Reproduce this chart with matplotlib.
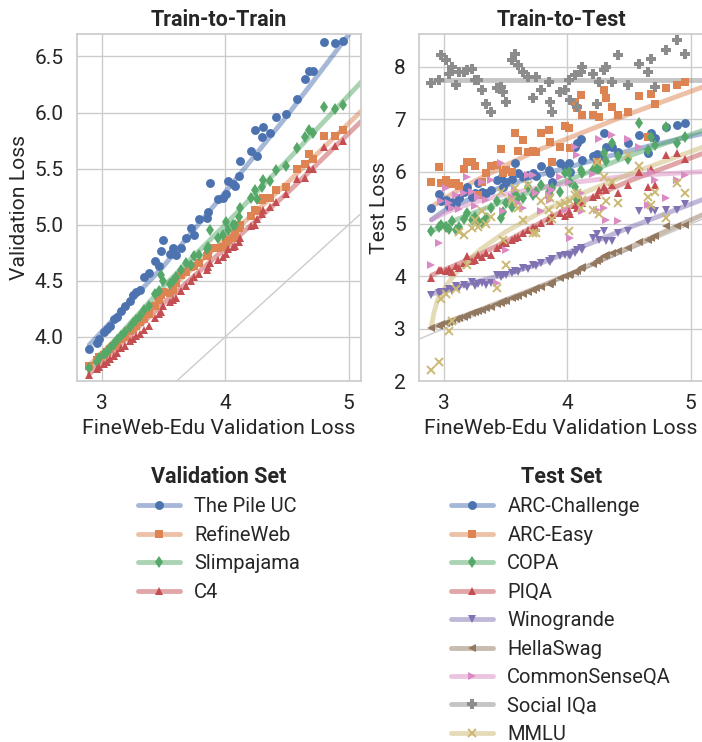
import matplotlib
matplotlib.use("Agg")
import matplotlib.pyplot as plt
import seaborn as sns
from matplotlib.lines import Line2D

sns.set_theme(style="whitegrid")
plt.rcParams['font.family'] = ['Roboto', 'DejaVu Sans']

# FineWeb-Edu validation loss of each model (shared x for every series)
fw_edu = [2.90, 2.96, 2.98, 3.02, 3.04, 3.07, 3.10, 3.12, 3.16, 3.19,
          3.23, 3.25, 3.28, 3.31, 3.34, 3.38, 3.43, 3.46, 3.48, 3.50,
          3.55, 3.58, 3.60, 3.64, 3.68, 3.72, 3.75, 3.79, 3.85, 3.86,
          3.88, 3.94, 3.98, 4.01, 4.02, 4.06, 4.08, 4.11, 4.12, 4.21,
          4.24, 4.26, 4.30, 4.31, 4.36, 4.41, 4.49, 4.58, 4.65, 4.68,
          4.71, 4.80, 4.89, 4.95]

# --- train-to-train (validation sets) ---
pile_uc = [3.89, 3.95, 3.98, 4.04, 4.07, 4.10, 4.16, 4.18, 4.23, 4.28,
           4.32, 4.37, 4.40, 4.42, 4.53, 4.57, 4.68, 4.63, 4.77, 4.86,
           4.74, 4.79, 4.73, 4.79, 4.88, 4.97, 4.91, 5.05, 5.06, 5.11,
           5.375, 5.23, 5.24, 5.27, 5.39, 5.36, 5.345, 5.43, 5.57, 5.66,
           5.84, 5.61, 5.78, 5.87, 5.82, 5.96, 5.99, 6.12, 6.30, 6.37,
           6.37, 6.63, 6.62, 6.64]
refineweb = [3.74, 3.79, 3.82, 3.84, 3.87, 3.89, 3.92, 3.94, 3.98, 4.00,
             4.05, 4.07, 4.10, 4.13, 4.16, 4.20, 4.28, 4.33, 4.37, 4.40,
             4.39, 4.42, 4.48, 4.55, 4.58, 4.62, 4.63, 4.66, 4.72, 4.74,
             4.79, 4.79, 4.80, 4.84, 4.86, 4.88, 4.92, 4.97, 5.00, 5.08,
             5.13, 5.12, 5.22, 5.24, 5.24, 5.31, 5.34, 5.50, 5.54, 5.63,
             5.59, 5.79, 5.79, 5.84]
slimpajama = [3.72, 3.78, 3.81, 3.85, 3.87, 3.90, 3.94, 3.97, 4.01, 4.04,
              4.09, 4.12, 4.15, 4.19, 4.24, 4.28, 4.38, 4.41, 4.55, 4.50,
              4.47, 4.50, 4.53, 4.60, 4.66, 4.64, 4.72, 4.73, 4.78, 4.80,
              4.95, 4.88, 4.91, 5.02, 4.95, 5.00, 5.00, 5.07, 5.15, 5.24,
              5.31, 5.23, 5.34, 5.40, 5.39, 5.49, 5.52, 5.68, 5.78, 5.84,
              5.82, 6.05, 6.03, 6.07]
c4 = [3.66, 3.71, 3.73, 3.76, 3.78, 3.80, 3.83, 3.86, 3.90, 3.92,
      3.96, 3.98, 4.01, 4.03, 4.06, 4.10, 4.17, 4.20, 4.22, 4.28,
      4.31, 4.33, 4.35, 4.41, 4.45, 4.50, 4.53, 4.56, 4.60, 4.62,
      4.66, 4.69, 4.71, 4.74, 4.78, 4.80, 4.81, 4.85, 4.88, 4.99,
      5.00, 5.05, 5.10, 5.13, 5.16, 5.20, 5.27, 5.41, 5.42, 5.50,
      5.50, 5.69, 5.70, 5.75]

# fitted curves
val_fit_x = [2.9, 3.5, 4.0, 4.5, 5.1]
pile_uc_fit = [3.93, 4.63, 5.29, 5.97, 6.84]
refineweb_fit = [3.75, 4.38, 4.87, 5.37, 6.01]
slimpajama_fit = [3.72, 4.45, 5.00, 5.57, 6.27]
c4_fit = [3.67, 4.30, 4.79, 5.28, 5.92]

# --- train-to-test (test sets) ---
arc_challenge = [5.30, 5.57, 5.44, 5.46, 5.35, 5.42, 5.41, 5.50, 5.62, 5.71,
                 5.52, 5.59, 5.78, 5.62, 5.59, 5.65, 5.84, 5.87, 5.70, 5.81,
                 5.85, 6.16, 5.97, 5.90, 5.94, 5.97, 5.92, 6.10, 6.03, 5.97,
                 5.81, 6.16, 6.10, 6.16, 6.00, 6.48, 6.55, 6.63, 6.22, 6.29,
                 6.34, 6.30, 6.73, 6.48, 6.48, 6.38, 6.54, 6.70, 6.35, 6.73,
                 6.65, 6.86, 6.89, 6.92]
arc_easy = [5.81, 6.08, 5.78, 5.84, 5.79, 5.76, 5.79, 5.72, 6.06, 6.19,
            6.19, 6.10, 5.56, 5.80, 5.97, 6.10, 6.12, 6.44, 5.97, 6.03,
            6.00, 6.73, 6.40, 6.60, 6.38, 6.40, 6.38, 6.73, 6.79, 6.57,
            6.19, 6.48, 6.87, 6.83, 6.45, 7.33, 7.22, 7.46, 7.08, 7.08,
            6.18, 7.05, 7.56, 7.40, 7.24, 7.08, 7.14, 7.44, 6.67, 7.49,
            7.30, 7.59, 7.65, 7.71]
copa = [4.86, 4.95, 4.98, 4.95, 4.90, 5.05, 4.89, 4.95, 5.10, 5.21,
        5.08, 5.14, 5.05, 5.02, 5.12, 5.30, 5.43, 5.11, 5.22, 5.40,
        5.33, 5.59, 5.50, 5.49, 5.71, 5.56, 5.62, 5.75, 5.62, 5.55,
        5.68, 5.62, 5.97, 6.00, 5.80, 5.70, 5.46, 6.03, 5.97, 6.03,
        6.06, 6.06, 6.35, 6.20, 6.54, 6.29, 6.25, 6.92, 6.41, 6.67,
        6.51, 6.86, 6.54, 6.67]
piqa = [3.97, 4.13, 4.12, 4.10, 4.14, 4.08, 4.19, 4.15, 4.25, 4.38,
        4.30, 4.32, 4.40, 4.36, 4.44, 4.40, 4.54, 4.60, 4.67, 4.64,
        4.70, 4.73, 4.76, 4.83, 4.89, 4.95, 4.92, 5.02, 5.11, 5.05,
        5.17, 5.21, 5.15, 5.24, 5.20, 5.37, 5.30, 5.46, 5.40, 5.52,
        5.56, 5.65, 5.71, 5.65, 5.75, 5.60, 5.75, 6.00, 5.71, 6.06,
        5.75, 6.32, 6.35, 6.25]
winogrande = [3.65, 3.68, 3.71, 3.70, 3.75, 3.72, 3.81, 3.78, 3.84, 3.80,
              3.90, 3.81, 3.86, 3.87, 3.84, 3.87, 4.03, 3.98, 4.03, 4.02,
              4.06, 4.10, 4.08, 4.16, 4.14, 4.22, 4.20, 4.25, 4.29, 4.27,
              4.33, 4.38, 4.41, 4.41, 4.38, 4.44, 4.51, 4.54, 4.50, 4.73,
              4.80, 4.70, 4.86, 4.67, 4.67, 4.83, 4.86, 5.24, 5.05, 5.27,
              5.24, 5.27, 5.27, 5.38]
hellaswag = [3.02, 3.06, 3.08, 3.11, 3.13, 3.15, 3.18, 3.20, 3.23, 3.26,
             3.29, 3.31, 3.33, 3.36, 3.39, 3.42, 3.47, 3.50, 3.52, 3.53,
             3.58, 3.61, 3.62, 3.67, 3.70, 3.74, 3.77, 3.80, 3.86, 3.86,
             3.89, 3.97, 4.00, 4.03, 4.04, 4.08, 4.10, 4.15, 4.17, 4.23,
             4.30, 4.33, 4.38, 4.40, 4.45, 4.49, 4.55, 4.66, 4.70, 4.73,
             4.77, 4.96, 4.96, 4.99]
commonsense_qa = [4.22, 4.63, 5.43, 5.68, 5.40, 5.30, 5.55, 5.28, 5.60, 5.90,
                  5.62, 5.35, 5.52, 5.81, 5.45, 5.84, 3.87, 6.16, 5.24, 4.51,
                  5.52, 5.65, 5.40, 5.30, 5.94, 5.94, 5.60, 5.24, 5.55, 5.45,
                  5.65, 5.90, 5.27, 5.81, 4.73, 6.48, 6.32, 5.60, 5.25, 5.95,
                  5.27, 6.63, 5.30, 5.08, 6.70, 5.05, 6.63, 6.47, 5.37, 6.00,
                  5.84, 5.49, 5.84, 5.94]
social_iqa = [7.70, 7.76, 8.22, 8.14, 7.86, 8.00, 7.65, 7.90, 7.90, 7.94,
              7.97, 7.75, 7.75, 7.56, 7.30, 7.14, 7.59, 7.62, 7.52, 7.33,
              8.13, 8.25, 8.03, 7.90, 7.81, 7.40, 7.81, 7.56, 7.71, 7.33,
              7.14, 7.52, 7.56, 7.75, 7.37, 7.84, 7.24, 7.90, 8.00, 7.87,
              7.30, 7.71, 7.94, 8.00, 7.71, 8.22, 7.65, 8.06, 7.90, 8.16,
              7.62, 8.32, 8.51, 8.25]
mmlu = [2.22, 2.36, 3.56, 3.66, 2.96, 3.15, 3.76, 4.85, 4.79, 4.21,
        4.92, 5.08, 4.95, 5.25, 5.00, 5.14, 3.78, 5.62, 4.70, 4.22,
        5.46, 5.68, 5.30, 5.08, 5.75, 4.83, 4.83, 5.43, 5.27, 5.50,
        5.10, 5.37, 5.40, 4.86, 5.43, 5.55, 5.60, 5.30, 5.45, 5.27,
        6.19, 5.20, 5.90, 5.43, 5.81, 5.40, 6.32, 6.10, 5.52, 5.37,
        5.62, 5.11, 5.78, 5.59]

test_fit_x = [2.9, 3.0, 3.1, 3.25, 3.5, 3.75, 4.0, 4.5, 5.1]
arc_challenge_fit = [5.08, 5.25, 5.36, 5.52, 5.73, 5.92, 6.08, 6.40, 6.73]
arc_easy_fit = [5.33, 5.48, 5.62, 5.82, 6.12, 6.40, 6.63, 7.10, 7.62]
copa_fit = [4.86, 4.98, 5.08, 5.22, 5.45, 5.65, 5.83, 6.30, 6.79]
piqa_fit = [4.02, 4.12, 4.22, 4.38, 4.66, 4.98, 5.30, 5.82, 6.35]
winogrande_fit = [3.66, 3.73, 3.80, 3.89, 4.04, 4.22, 4.45, 4.93, 5.47]
hellaswag_fit = [3.02, 3.10, 3.19, 3.32, 3.55, 3.78, 4.02, 4.55, 5.18]
commonsense_qa_fit = [5.08, 5.20, 5.30, 5.42, 5.57, 5.68, 5.78, 5.92, 6.00]
social_iqa_fit = [7.76, 7.76, 7.76, 7.76, 7.76, 7.76, 7.76, 7.76, 7.76]
mmlu_fit_x = [2.9, 2.92, 2.95, 3.0, 3.05, 3.1, 3.2, 3.3, 3.5, 3.75, 4.0, 4.5, 5.1]
mmlu_fit = [3.05, 3.3, 3.55, 3.75, 3.92, 4.07, 4.31, 4.52, 4.85, 5.18, 5.47, 5.95, 6.47]

pal = sns.color_palette("deep")
markers = ['o', 's', 'd', '^', 'v', '<', '>', 'P', 'x']

val_sets = [
    ("The Pile UC", pile_uc, val_fit_x, pile_uc_fit),
    ("RefineWeb", refineweb, val_fit_x, refineweb_fit),
    ("Slimpajama", slimpajama, val_fit_x, slimpajama_fit),
    ("C4", c4, val_fit_x, c4_fit),
]
test_sets = [
    ("ARC-Challenge", arc_challenge, test_fit_x, arc_challenge_fit),
    ("ARC-Easy", arc_easy, test_fit_x, arc_easy_fit),
    ("COPA", copa, test_fit_x, copa_fit),
    ("PIQA", piqa, test_fit_x, piqa_fit),
    ("Winogrande", winogrande, test_fit_x, winogrande_fit),
    ("HellaSwag", hellaswag, test_fit_x, hellaswag_fit),
    ("CommonSenseQA", commonsense_qa, test_fit_x, commonsense_qa_fit),
    ("Social IQa", social_iqa, test_fit_x, social_iqa_fit),
    ("MMLU", mmlu, mmlu_fit_x, mmlu_fit),
]

TITLE_FS = 15.5
LABEL_FS = 15.2
TICK_FS = 15
LEG_FS = 14.5

fig = plt.figure(figsize=(7.02, 7.42), dpi=100)
ax1 = fig.add_axes([0.1097, 0.4865, 0.4046, 0.4677])
ax2 = fig.add_axes([0.597, 0.4865, 0.4046, 0.4677])


def draw(ax, sets, legend_title):
    ax.plot([2, 9], [2, 9], color='#cccccc', lw=1, zorder=1)
    handles = []
    for i, (name, ys, fx, fy) in enumerate(sets):
        c = pal[i]
        m = markers[i]
        ax.plot(fx, fy, color=c, lw=3.5, alpha=0.5, solid_capstyle='round', zorder=2)
        mew = 1.4 if m == 'x' else 0
        ms = 7.0 if m == 'P' else 6.4
        ax.plot(fw_edu, ys, linestyle='none', marker=m, color=c,
                markersize=ms, markeredgewidth=mew, zorder=3)
        ln = Line2D([], [], color=c, lw=3.5, alpha=0.5, solid_capstyle='round')
        mk = Line2D([], [], linestyle='none', marker=m, color=c,
                    markersize=ms, markeredgewidth=mew)
        handles.append((ln, mk))
    leg = ax.legend(handles, [s[0] for s in sets], title=legend_title,
                    loc='upper center', bbox_to_anchor=(0.5, -0.192),
                    frameon=False, fontsize=LEG_FS, title_fontsize=TITLE_FS,
                    labelspacing=0.47, handlelength=2.1, handletextpad=0.7)
    leg.get_title().set_fontweight('bold')
    ax.set_xlabel("FineWeb-Edu Validation Loss", fontsize=LABEL_FS)
    ax.tick_params(labelsize=TICK_FS)
    ax.set_xticks([3, 4, 5])
    ax.set_xlim(2.8, 5.1)


draw(ax1, val_sets, "Validation Set")
ax1.set_ylim(3.607, 6.7)
ax1.set_yticks([4.0, 4.5, 5.0, 5.5, 6.0, 6.5])
ax1.set_yticklabels(["4.0", "4.5", "5.0", "5.5", "6.0", "6.5"])
ax1.set_ylabel("Validation Loss", fontsize=LABEL_FS)
ax1.set_title("Train-to-Train", fontsize=TITLE_FS, fontweight='bold')

draw(ax2, test_sets, "Test Set")
ax2.set_ylim(2.0, 8.63)
ax2.set_yticks([2, 3, 4, 5, 6, 7, 8])
ax2.set_ylabel("Test Loss", fontsize=LABEL_FS)
ax2.set_title("Train-to-Test", fontsize=TITLE_FS, fontweight='bold')

fig.savefig("out.png", dpi=100)
